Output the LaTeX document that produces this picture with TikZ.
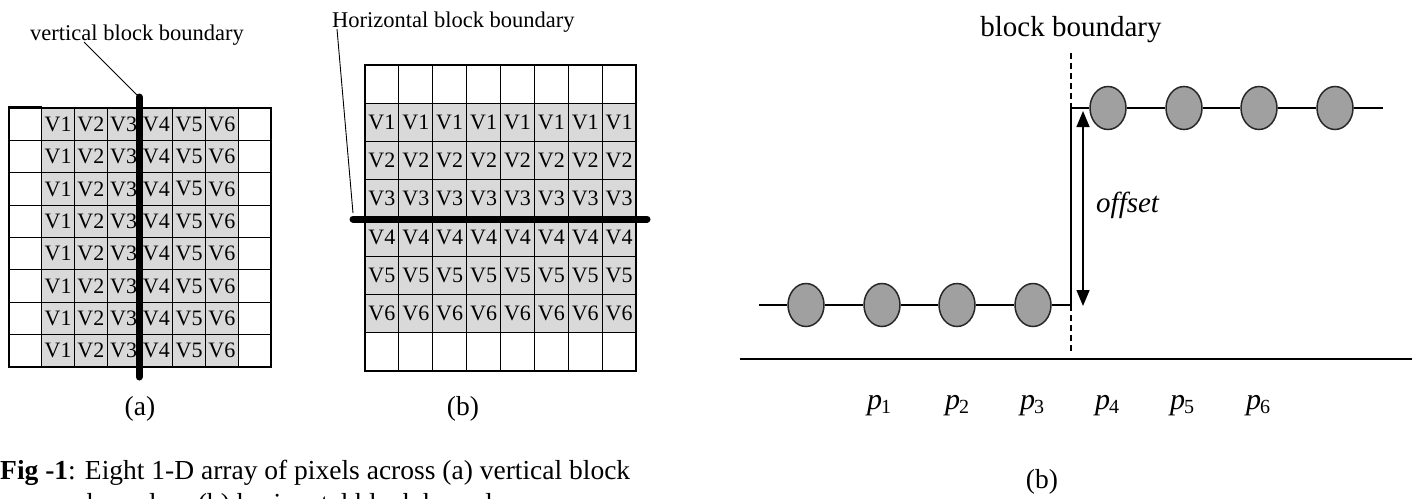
\documentclass[tikz,border=0pt]{standalone}
\usepackage{fontspec}
\setmainfont{Liberation Serif}
\usetikzlibrary{shapes.geometric,arrows.meta}
\definecolor{cellgray}{RGB}{217,217,217}
\definecolor{dotgray}{RGB}{160,160,160}
\definecolor{dotedge}{RGB}{40,40,40}
\newcommand\plab[1]{\textit{p}\kern-1pt\raisebox{-4pt}{\fontsize{20}{22}\selectfont #1}}
\begin{document}
\begin{tikzpicture}[x=1pt,y=-1pt,
  cellA/.style={draw=black,line width=1.2pt,minimum width=32.75pt,minimum height=32.375pt,inner sep=0pt,font=\fontsize{22}{26}\selectfont},
  cellB/.style={draw=black,line width=1.2pt,minimum width=33.875pt,minimum height=38.25pt,inner sep=0pt,font=\fontsize{22}{26}\selectfont},
  shaded/.style={fill=cellgray},
  pix/.style={ellipse,draw=dotedge,line width=1.5pt,fill=dotgray,minimum width=36pt,minimum height=43pt,inner sep=0pt},
  thinl/.style={line width=1.5pt},
  bound/.style={line width=7pt,line cap=round},
  leader/.style={line width=0.9pt},
  dashedb/.style={line width=1.3pt,dash pattern=on 6pt off 4pt},
  lab/.style={font=\fontsize{22.5}{26}\selectfont,inner sep=0pt},
  rlab/.style={font=\fontsize{29}{33}\selectfont,inner sep=0pt},
  plabel/.style={font=\fontsize{30}{34}\selectfont,inner sep=0pt,anchor=base},
  captxt/.style={font=\fontsize{27.5}{32}\selectfont,inner sep=0pt},
  offarrow/.style={line width=1.5pt,{Triangle[width=13pt,length=16pt]}-{Triangle[width=13pt,length=16pt]}}
]
\useasboundingbox (0,0) rectangle (1418,498);

% ---------- grid (a) ----------
\foreach \r in {0,...,7}{
  \foreach \c in {0,7}{
    \node[cellA] (a-\r-\c) at ({9+32.75*(\c+0.5)},{108+32.375*(\r+0.5)}) {};
  }
  \foreach \c in {1,...,6}{
    \node[cellA,shaded] (a-\r-\c) at ({9+32.75*(\c+0.5)},{108+32.375*(\r+0.5)}) {V\c};
  }
}
\draw[line width=2.5pt] (a-0-0.north west) -- (a-0-0.north east);
\node[lab] (vlab) at (137,35) {vertical block boundary};
\coordinate (vlp) at (84,42);
\coordinate (vt) at (139,97);
\coordinate (vb) at (139,377);
\draw[leader] (vlp) -- (vt);
\draw[bound] (vt) -- (vb);
\node[captxt] (suba) at (140,409) {(a)};

% ---------- grid (b) ----------
\foreach \c in {0,...,7}{
  \foreach \r in {0,7}{
    \node[cellB] (b-\r-\c) at ({365+33.875*(\c+0.5)},{65+38.25*(\r+0.5)}) {};
  }
  \foreach \r in {1,...,6}{
    \node[cellB,shaded] (b-\r-\c) at ({365+33.875*(\c+0.5)},{65+38.25*(\r+0.5)}) {V\r};
  }
}
\node[lab,anchor=west] (hlab) at (332,22) {Horizontal block boundary};
\coordinate (hlp) at (337,29);
\coordinate (hle) at (353,213);
\coordinate (hl) at (353,219);
\coordinate (hr) at (647,219);
\draw[leader] (hlp) -- (hle);
\draw[bound] (hl) -- (hr);
\node[captxt] (subb) at (463,409) {(b)};

% ---------- caption ----------
\node[captxt,anchor=base west] (cap1) at (0,479) {\textbf{Fig -1}: Eight 1-D array of pixels across (a) vertical block};
\node[captxt,anchor=base west] (cap2) at (87,512) {boundary (b) horizontal block boundary};

% ---------- right panel ----------
\foreach \i/\x in {1/806,2/882,3/957,4/1033}{
  \node[pix] (l\i) at (\x,305) {};
}
\foreach \i/\x in {1/1108,2/1184,3/1259,4/1335}{
  \node[pix] (u\i) at (\x,108) {};
}
\coordinate (lstart) at (759,305);
\coordinate (corner) at (1071,305);
\coordinate (ucorner) at (1071,108);
\coordinate (uend) at (1383,108);
\coordinate (dtop) at (1071,53);
\coordinate (dbot) at (1071,353);
\draw[thinl] (lstart) -- (l1) -- (l2) -- (l3) -- (l4) -- (corner) -- (ucorner) -- (u1) -- (u2) -- (u3) -- (u4) -- (uend);
\draw[dashedb] (dtop) -- (ucorner);
\draw[dashedb] (corner) -- (dbot);
\coordinate (atop) at (1083,111);
\coordinate (abot) at (1083,306);
\draw[offarrow] (atop) -- (abot);
\coordinate (bl) at (740,359);
\coordinate (br) at (1412,359);
\draw[thinl] (bl) -- (br);
\node[rlab] (blab) at (1071,30) {block boundary};
\node[rlab,anchor=base west] (off) at (1096,212) {\itshape offset};
\foreach \i/\x in {1/879,2/957,3/1032,4/1107,5/1182,6/1258}{
  \node[plabel] (p\i) at (\x,409) {\plab{\i}};
}
\node[captxt] (subc) at (1042,482) {(b)};
\end{tikzpicture}
\end{document}
